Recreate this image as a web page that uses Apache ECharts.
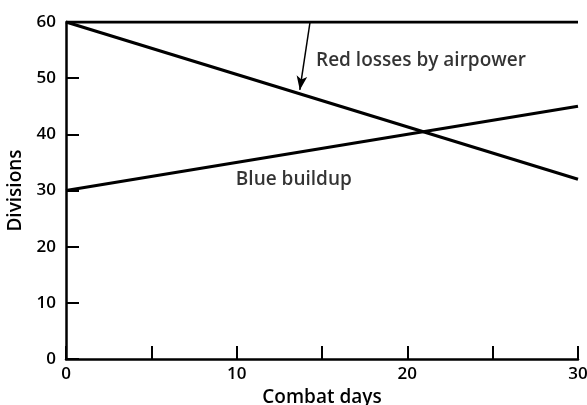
<!DOCTYPE html>
<html><head><meta charset="utf-8">
<script src="https://cdn.jsdelivr.net/npm/echarts@6/dist/echarts.min.js"></script>
<style>html,body{margin:0;padding:0;background:#fff}#c{width:587px;height:405px}</style>
</head><body><div id="c"></div>
<script>
const days = [0, 30];
const baseline = [60, 60];
const redLosses = [60, 32];
const blueBuildup = [30, 45];
const xTickLabels = ['0', '10', '20', '30'];
const yTickLabels = ['0', '10', '20', '30', '40', '50', '60'];
const arrowFrom = [14.3, 60];
const arrowTo = [13.7, 47.9];
const redLabelPos = [14.65, 53.2];
const blueLabelPos = [9.95, 31.9];
const redLabel = 'Red losses by airpower';
const blueLabel = 'Blue buildup';

const FONT = 'Open Sans';
const FW = 600;
const FS = 17;
const chart = echarts.init(document.getElementById('c'));
const pts = (ys) => days.map((d, i) => [d, ys[i]]);
const lineStyle = { color: '#000', width: 3.2 };
const txt = { color: '#000', fontSize: FS, fontFamily: FONT, fontWeight: FW };
chart.setOption({
  animation: false,
  grid: { left: 66, right: 9, top: 22, bottom: 46, containLabel: false, outerBoundsMode: 'none' },
  xAxis: {
    type: 'value', min: 0, max: 30, interval: 5,
    name: 'Combat days', nameLocation: 'middle', nameGap: 28,
    nameTextStyle: Object.assign({}, txt, { fontSize: 19 }),
    axisLine: { lineStyle: { color: '#000', width: 2.5 } },
    axisTick: { inside: true, length: 13, lineStyle: { color: '#000', width: 2 } },
    axisLabel: Object.assign({}, txt, { margin: 7,
      formatter: (v) => xTickLabels.includes(String(v)) ? String(v) : '' }),
    splitLine: { show: false }
  },
  yAxis: {
    type: 'value', min: 0, max: 60, interval: 10,
    name: 'Divisions', nameLocation: 'middle', nameGap: 41,
    nameTextStyle: Object.assign({}, txt, { fontSize: 19 }),
    axisLine: { show: true, lineStyle: { color: '#000', width: 2.5 } },
    axisTick: { show: true, inside: true, length: 13, lineStyle: { color: '#000', width: 2 } },
    axisLabel: Object.assign({}, txt, { margin: 10,
      formatter: (v) => yTickLabels.includes(String(v)) ? String(v) : '' }),
    splitLine: { show: false }
  },
  series: [
    { type: 'line', data: pts(baseline), symbol: 'none', lineStyle: lineStyle },
    { type: 'line', data: pts(redLosses), symbol: 'none', lineStyle: lineStyle,
      markLine: {
        silent: true, symbol: ['none', 'arrow'], symbolSize: [8, 14],
        label: { show: false },
        lineStyle: { color: '#000', width: 1.5, type: 'solid' },
        data: [[{ coord: arrowFrom }, { coord: arrowTo }]]
      }
    },
    { type: 'line', data: pts(blueBuildup), symbol: 'none', lineStyle: lineStyle },
    { type: 'scatter', symbolSize: 0, silent: true,
      data: [
        { value: redLabelPos, name: redLabel },
        { value: blueLabelPos, name: blueLabel }
      ],
      label: Object.assign({ show: true, position: 'right', distance: 0, formatter: (p) => p.name }, txt, { fontSize: 19 })
    }
  ]
});
</script></body></html>
